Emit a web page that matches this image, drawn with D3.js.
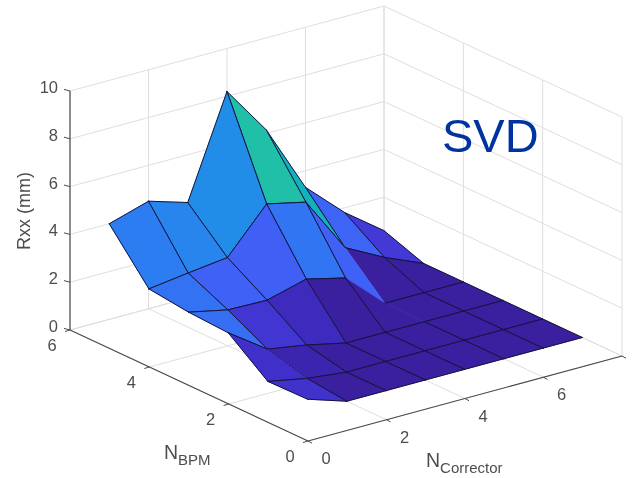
<!DOCTYPE html>
<html>
<head>
<meta charset="utf-8">
<script src="https://cdn.jsdelivr.net/npm/d3@7"></script>
<style>
  html, body { margin: 0; padding: 0; background: #fff; }
  svg { display: block; font-family: "Liberation Sans", Arial, sans-serif; filter: blur(0.4px); }
</style>
</head>
<body>
<div id="canvas"></div>
<script>
// surface: rows are N_BPM, columns are N_Corrector
var nCorrector = [1, 2, 3, 4, 5, 6, 7, 8];
var nBpm = [1, 2, 3, 4, 5, 6];
var rxx1 = [0.53, 0, 0, 0, 0, 0, 0, 0];
var rxx2 = [0.5, 0.18, 0, 0, 0, 0, 0, 0];
var rxx3 = [1.76, 0.63, 0.36, 0, 0, 0, 0, 0];
var rxx4 = [1.85, 1.5, 1.46, 1.9, 1.5, 0, 0, 0];
var rxx5 = [2.05, 2.27, 2.47, 4.27, 3.9, 1.55, 0.7, 0];
var rxx6 = [4, 4.5, 4, 8.2, 6.15, 3.3, 1.8, 0.6];
var rxx = [rxx1, rxx2, rxx3, rxx4, rxx5, rxx6];

var xTicks = [0, 2, 4, 6, 8];
var yTicks = [0, 2, 4, 6];
var zTicks = [0, 2, 4, 6, 8, 10];

// mesh edges that do not show in the picture, as [i, j, i, j] grid indices
var hiddenEdges = [[4, 3, 5, 3], [5, 3, 5, 4], [5, 2, 5, 3]];
var dottedEdges = [[1, 1, 1, 2]];

var width = 636, height = 478;
var svg = d3.select("#canvas").append("svg")
  .attr("width", width)
  .attr("height", height);

// oblique projection, one scale per screen direction of each axis
var originX = 308, originY = 441;
var xToH = d3.scaleLinear().domain([0, 8]).range([0, 314]);
var xToV = d3.scaleLinear().domain([0, 8]).range([0, -85]);
var yToH = d3.scaleLinear().domain([0, 6]).range([0, -238]);
var yToV = d3.scaleLinear().domain([0, 6]).range([0, -111]);
var zToV = d3.scaleLinear().domain([0, 10]).range([0, -239]);

function project(x, y, z) {
  return [originX + xToH(x) + yToH(y), originY + xToV(x) + yToV(y) + zToV(z)];
}

// colour comes from the low corner of each patch
var color = d3.scaleLinear()
  .domain([0, 0.06, 0.12, 0.18, 0.25, 0.34, 0.47, 0.52, 0.75, 1].map(function(t) { return t * 8.2; }))
  .range(["#3a1f9f", "#4030c8", "#4545ea", "#4060f5", "#2c7cf2", "#1a9ae0", "#10b0c0", "#20c0a8", "#a0c850", "#f9fb15"])
  .clamp(true);

var gridColor = "#dedede", axisColor = "#4a4a4a", textColor = "#4d4d4d";

function segment(a, b, stroke, w) {
  return svg.append("line")
    .attr("x1", a[0]).attr("y1", a[1])
    .attr("x2", b[0]).attr("y2", b[1])
    .attr("stroke", stroke)
    .attr("stroke-width", w);
}

// grid on the floor and the two back walls
xTicks.forEach(function(x) {
  segment(project(x, 0, 0), project(x, 6, 0), gridColor, 1);
  segment(project(x, 6, 0), project(x, 6, 10), gridColor, 1);
});
yTicks.forEach(function(y) {
  segment(project(0, y, 0), project(8, y, 0), gridColor, 1);
  segment(project(8, y, 0), project(8, y, 10), gridColor, 1);
});
zTicks.forEach(function(z) {
  segment(project(0, 6, z), project(8, 6, z), gridColor, 1);
  segment(project(8, 6, z), project(8, 0, z), gridColor, 1);
});

// axes
segment(project(0, 6, 0), project(0, 6, 10), axisColor, 1.2);
segment(project(0, 0, 0), project(0, 6, 0), axisColor, 1.1);
segment(project(0, 0, 0), project(8, 0, 0), axisColor, 1.1);

xTicks.forEach(function(x) {
  var p = project(x, 0, 0);
  segment(p, [p[0] + 4, p[1] + 2.2], axisColor, 1);
  svg.append("text").attr("class", "tick")
    .attr("x", p[0] + 18).attr("y", p[1] + 23)
    .attr("text-anchor", "middle").text(x);
});
yTicks.forEach(function(y) {
  var p = project(0, y, 0);
  segment(p, [p[0] - 5, p[1] + 1.5], axisColor, 1);
  svg.append("text").attr("class", "tick")
    .attr("x", p[0] - 18).attr("y", p[1] + 21)
    .attr("text-anchor", "middle").text(y);
});
zTicks.forEach(function(z) {
  var p = project(0, 6, z);
  segment(p, [p[0] - 6, p[1] - 1.6], axisColor, 1);
  svg.append("text").attr("class", "tick")
    .attr("x", p[0] - 12).attr("y", p[1] + 2)
    .attr("text-anchor", "end").text(z);
});
svg.selectAll("text.tick")
  .attr("font-size", 16.5)
  .attr("fill", textColor);

function listed(list, i1, j1, i2, j2) {
  return list.some(function(e) {
    return (e[0] === i1 && e[1] === j1 && e[2] === i2 && e[3] === j2) ||
      (e[0] === i2 && e[1] === j2 && e[2] === i1 && e[3] === j1);
  });
}

// patches, far corner first; fill then its own edges so nearer ones cover them
for (var j = nBpm.length - 2; j >= 0; j--) {
  for (var i = nCorrector.length - 2; i >= 0; i--) {
    var idx = [[i, j], [i + 1, j], [i + 1, j + 1], [i, j + 1]];
    var corners = idx.map(function(c) {
      return project(nCorrector[c[0]], nBpm[c[1]], rxx[c[1]][c[0]]);
    });
    svg.append("path")
      .attr("d", "M" + corners.join("L") + "Z")
      .attr("fill", color(rxx[j][i]))
      .attr("stroke", color(rxx[j][i]))
      .attr("stroke-width", 0.5);
    idx.forEach(function(c, k) {
      var n = idx[(k + 1) % 4];
      if (listed(hiddenEdges, c[0], c[1], n[0], n[1])) return;
      var line = segment(corners[k], corners[(k + 1) % 4], "#14143c", 1)
        .attr("stroke-linecap", "round");
      if (listed(dottedEdges, c[0], c[1], n[0], n[1])) {
        line.attr("stroke-dasharray", "1.5,2").attr("stroke-linecap", "butt");
      }
    });
  }
}

// axis titles
svg.append("text")
  .attr("transform", "translate(30,211) rotate(-90)")
  .attr("text-anchor", "middle")
  .attr("font-size", 18)
  .attr("fill", textColor)
  .text("Rxx (mm)");

function subscriptLabel(x, y, main, sub) {
  var t = svg.append("text")
    .attr("x", x).attr("y", y)
    .attr("font-size", 19.5)
    .attr("fill", textColor);
  t.append("tspan").text(main);
  t.append("tspan").attr("dy", 6).attr("font-size", 15).text(sub);
}
subscriptLabel(164, 459, "N", "BPM");
subscriptLabel(426, 467, "N", "Corrector");

svg.append("text")
  .attr("x", 442).attr("y", 152)
  .attr("font-size", 47)
  .attr("fill", "#0033a0")
  .text("SVD");
</script>
</body>
</html>
